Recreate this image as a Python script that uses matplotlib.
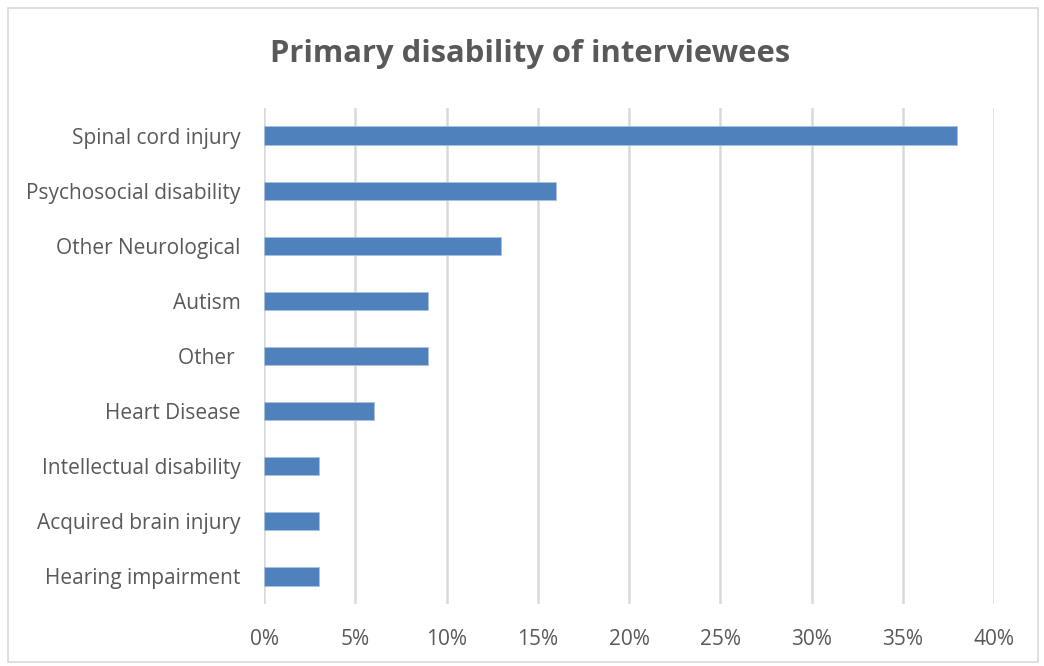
import matplotlib.pyplot as plt
from matplotlib.patches import Rectangle
from matplotlib.ticker import PercentFormatter

plt.rcParams['font.family'] = ['Open Sans', 'DejaVu Sans']

categories = ['Spinal cord injury', 'Psychosocial disability', 'Other Neurological',
              'Autism', 'Other ', 'Heart Disease', 'Intellectual disability',
              'Acquired brain injury', 'Hearing impairment']
values = [38, 16, 13, 9, 9, 6, 3, 3, 3]
xticks = [0, 5, 10, 15, 20, 25, 30, 35, 40]

fig = plt.figure(figsize=(10.44, 6.66), dpi=100)
ax = fig.add_axes([0.2529, 0.0931, 0.6992, 0.7447])

# 横向条形图，顺序从上到下
pos = list(range(len(categories)))[::-1]
ax.barh(pos, values, height=0.33, color='#4F81BD', edgecolor='#A9C0DE', linewidth=0.6, zorder=3)

ax.set_xlim(0, 40)
ax.set_ylim(-0.5, len(categories) - 0.5)
ax.set_xticks(xticks)
ax.xaxis.set_major_formatter(PercentFormatter(decimals=0))
ax.set_yticks(pos)
ax.set_yticklabels(categories)
ax.grid(axis='x', color='#D9D9D9', linewidth=1.8, zorder=0)
for s in ax.spines.values():
    s.set_visible(False)
ax.tick_params(axis='both', length=0, colors='#595959', labelsize=15)
ax.tick_params(axis='x', pad=18)
ax.tick_params(axis='y', pad=17)

fig.text(0.508, 0.919, 'Primary disability of interviewees', ha='center', va='center',
         fontsize=22.3, fontweight='bold', color='#595959')

# 图表外框
fig.patches.append(Rectangle((8 / 1044, 4 / 666), 1030 / 1044, 654 / 666, transform=fig.transFigure,
                             fill=False, edgecolor='#D9D9D9', linewidth=1.2))

fig.savefig('out.png', dpi=100)
